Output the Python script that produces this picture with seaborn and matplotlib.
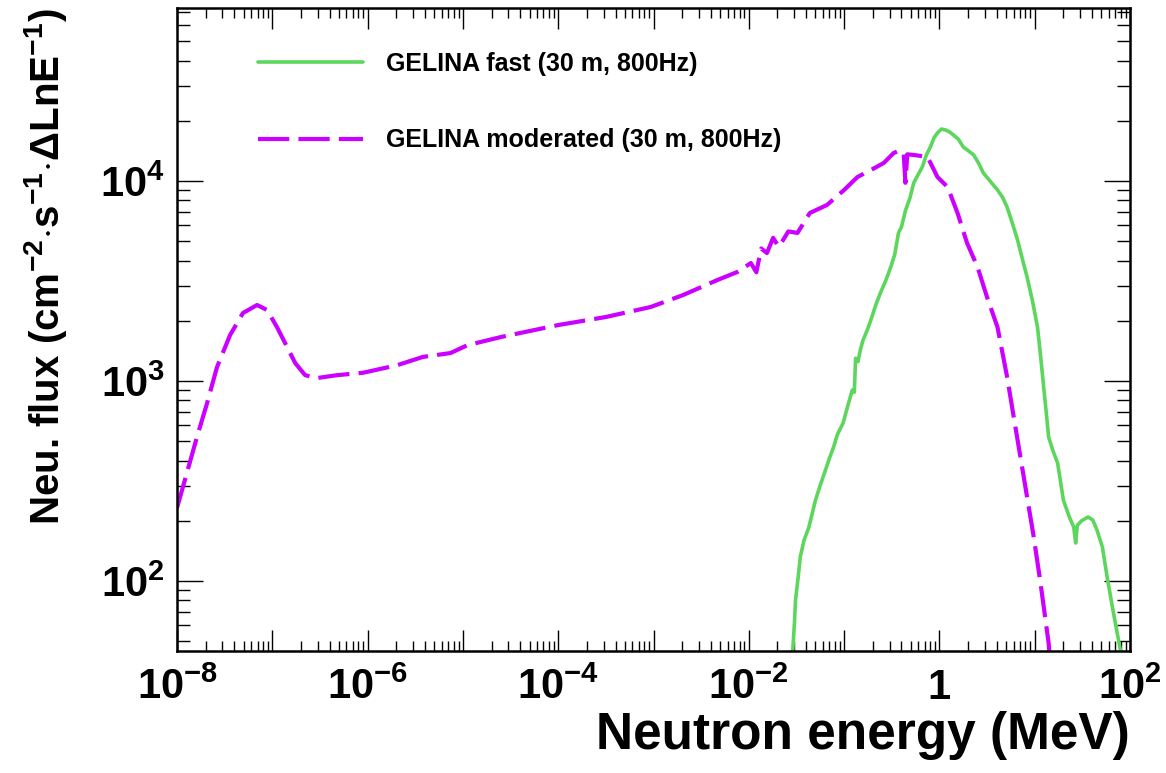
import numpy as np
import pandas as pd
import matplotlib
matplotlib.use("Agg")
import matplotlib.pyplot as plt
import matplotlib.ticker as mticker
import seaborn as sns

# GELINA fast (30 m, 800Hz) - energia (MeV) e fluxo
fast_energy = [0.0285, 0.0302, 0.0309, 0.0330, 0.0347, 0.0380, 0.0427, 0.0460, 0.0501,
               0.0560, 0.0638, 0.0700, 0.0776, 0.0850, 0.0977, 0.110, 0.122, 0.128,
               0.132, 0.140, 0.148, 0.158, 0.175, 0.191, 0.215, 0.240, 0.275, 0.309,
               0.340, 0.372, 0.400, 0.442, 0.490, 0.537, 0.600, 0.661, 0.730, 0.804,
               0.880, 0.955, 1.05, 1.16, 1.28, 1.40, 1.58, 1.78, 2.00, 2.29, 2.60,
               2.88, 3.40, 4.07, 4.60, 5.13, 5.80, 6.61, 7.40, 8.32, 9.50, 10.7,
               11.5, 12.3, 13.2, 14.0, 15.5, 17.4, 20.0, 23.0, 25.7, 26.9, 28.0,
               31.0, 36.3, 40.7, 45.0, 51.3, 57.5, 66.1, 79.4, 85.0]
fast_flux = [40, 63, 80, 105, 132, 160, 186, 215, 254,
             300, 359, 410, 468, 540, 617, 760, 902, 880,
             1300, 1250, 1430, 1600, 1800, 2020, 2400, 2750, 3200, 3720,
             4300, 5500, 5900, 7160, 8200, 9770, 10800, 11750, 13500, 14800,
             16500, 17400, 18200, 18000, 17600, 17000, 16200, 14800, 14200, 13500, 12200,
             11000, 10000, 9020, 8300, 7410, 6200, 5070, 4100, 3310, 2500, 1860,
             1350, 977, 700, 525, 450, 389, 254, 210, 186, 155, 190,
             200, 209, 202, 180, 148, 105, 72, 45, 35]

# GELINA moderated (30 m, 800Hz)
mod_energy = [1.00e-8, 1.21e-8, 1.62e-8, 2.07e-8, 2.63e-8, 3.61e-8, 4.93e-8, 6.92e-8,
              8.81e-8, 1.12e-7, 1.43e-7, 1.74e-7, 2.21e-7, 2.95e-7, 4.79e-7, 8.97e-7,
              2.04e-6, 3.80e-6, 7.41e-6, 1.11e-5, 2.51e-5, 1.0e-4, 3.16e-4, 9.33e-4,
              2.04e-3, 4.68e-3, 7.59e-3, 1.05e-2, 1.20e-2, 1.35e-2, 1.55e-2, 1.80e-2,
              2.05e-2, 2.29e-2, 2.60e-2, 3.24e-2, 4.37e-2, 6.61e-2, 0.100, 0.138,
              0.191, 0.260, 0.331, 0.380, 0.422, 0.440, 0.460, 0.537, 0.750, 0.955,
              1.22, 1.55, 1.95, 2.51, 3.16, 4.07, 5.13, 6.03, 7.08, 8.32, 9.77,
              11.5, 14.0, 14.5]
mod_flux = [232, 320, 525, 776, 1175, 1700, 2190, 2400,
            2265, 1860, 1480, 1230, 1070, 1035, 1070, 1100,
            1200, 1320, 1380, 1510, 1660, 1905, 2090, 2345,
            2690, 3200, 3510, 3890, 3500, 4600, 4365, 5200,
            4700, 5070, 5600, 5500, 6920, 7590, 9020, 10470,
            11350, 12300, 13800, 14200, 13800, 9800, 13600, 13500, 13200, 10470,
            9330, 6920, 4900, 3720, 2630, 1860, 1050, 660, 417, 263, 166,
            98, 49, 40]

x_major = [1e-8, 1e-7, 1e-6, 1e-5, 1e-4, 1e-3, 1e-2, 1e-1, 1, 10, 100]
x_labels = [r'$10^{-8}$', '', r'$10^{-6}$', '', r'$10^{-4}$', '', r'$10^{-2}$', '', '1', '', r'$10^{2}$']
y_major = [100, 1000, 10000]
y_labels = [r'$10^{2}$', r'$10^{3}$', r'$10^{4}$']

sns.set_style('ticks')
plt.rcParams['font.family'] = ['Liberation Sans', 'DejaVu Sans']
plt.rcParams['font.weight'] = 'bold'
plt.rcParams['text.color'] = 'black'
plt.rcParams['axes.labelcolor'] = 'black'
plt.rcParams['xtick.color'] = 'black'
plt.rcParams['ytick.color'] = 'black'
plt.rcParams['mathtext.fontset'] = 'custom'
plt.rcParams['mathtext.rm'] = 'Liberation Sans:bold'
plt.rcParams['mathtext.bf'] = 'Liberation Sans:bold'
plt.rcParams['mathtext.it'] = 'Liberation Sans:bold'
plt.rcParams['mathtext.sf'] = 'Liberation Sans:bold'
plt.rcParams['mathtext.default'] = 'bf'

fig = plt.figure(figsize=(11.66, 7.73), dpi=100)
ax = fig.add_axes([177/1166, 1 - 651/773, (1130 - 177)/1166, (651 - 8)/773])

df_fast = pd.DataFrame({'energia': fast_energy, 'fluxo': fast_flux})
df_mod = pd.DataFrame({'energia': mod_energy, 'fluxo': mod_flux})

sns.lineplot(data=df_fast, x='energia', y='fluxo', ax=ax, color='#5CD65C', linewidth=2.6,
             sort=False, estimator=None, label='GELINA fast (30 m, 800Hz)')
sns.lineplot(data=df_mod, x='energia', y='fluxo', ax=ax, color='#CC00FF', linewidth=3.0,
             linestyle=(0, (7.5, 2.2)), sort=False, estimator=None,
             label='GELINA moderated (30 m, 800Hz)')

ax.set_xscale('log')
ax.set_yscale('log')
ax.set_xlim(1e-8, 1e2)
ax.set_ylim(44.7, 73300)

ax.set_xticks(x_major)
ax.set_xticklabels(x_labels)
ax.xaxis.set_minor_locator(mticker.LogLocator(base=10, subs=np.arange(2, 10), numticks=100))
ax.xaxis.set_minor_formatter(mticker.NullFormatter())
ax.set_yticks(y_major)
ax.set_yticklabels(y_labels)
ax.yaxis.set_minor_locator(mticker.LogLocator(base=10, subs=np.arange(2, 10), numticks=100))
ax.yaxis.set_minor_formatter(mticker.NullFormatter())

ax.tick_params(which='both', direction='in', top=True, right=True, width=1.0, color='black')
ax.tick_params(axis='x', which='major', length=15, pad=12, labelsize=30)
ax.tick_params(axis='x', which='minor', length=7.5)
ax.tick_params(axis='y', which='major', length=19, pad=9, labelsize=30)
ax.tick_params(axis='y', which='minor', length=9.5)
for s in ax.spines.values():
    s.set_linewidth(1.8)
    s.set_color('black')
    s.set_visible(True)

ax.set_xlabel('Neutron energy (MeV)', fontsize=37, fontweight='bold', loc='right', labelpad=2)
ax.set_ylabel(r'Neu. flux (cm$^{-2}$$\cdot$s$^{-1}$$\cdot$$\Delta$LnE$^{-1}$)', fontsize=29,
              fontweight='bold', loc='top', labelpad=22)

ax.legend(loc='upper left', bbox_to_anchor=(258/1166, 1 - 52/773), bbox_transform=fig.transFigure,
          frameon=False, prop={'weight': 'bold', 'size': 18}, handlelength=4.2,
          handletextpad=0.9, labelspacing=2.1, borderpad=0, borderaxespad=0)

fig.savefig('out.png', dpi=100)
